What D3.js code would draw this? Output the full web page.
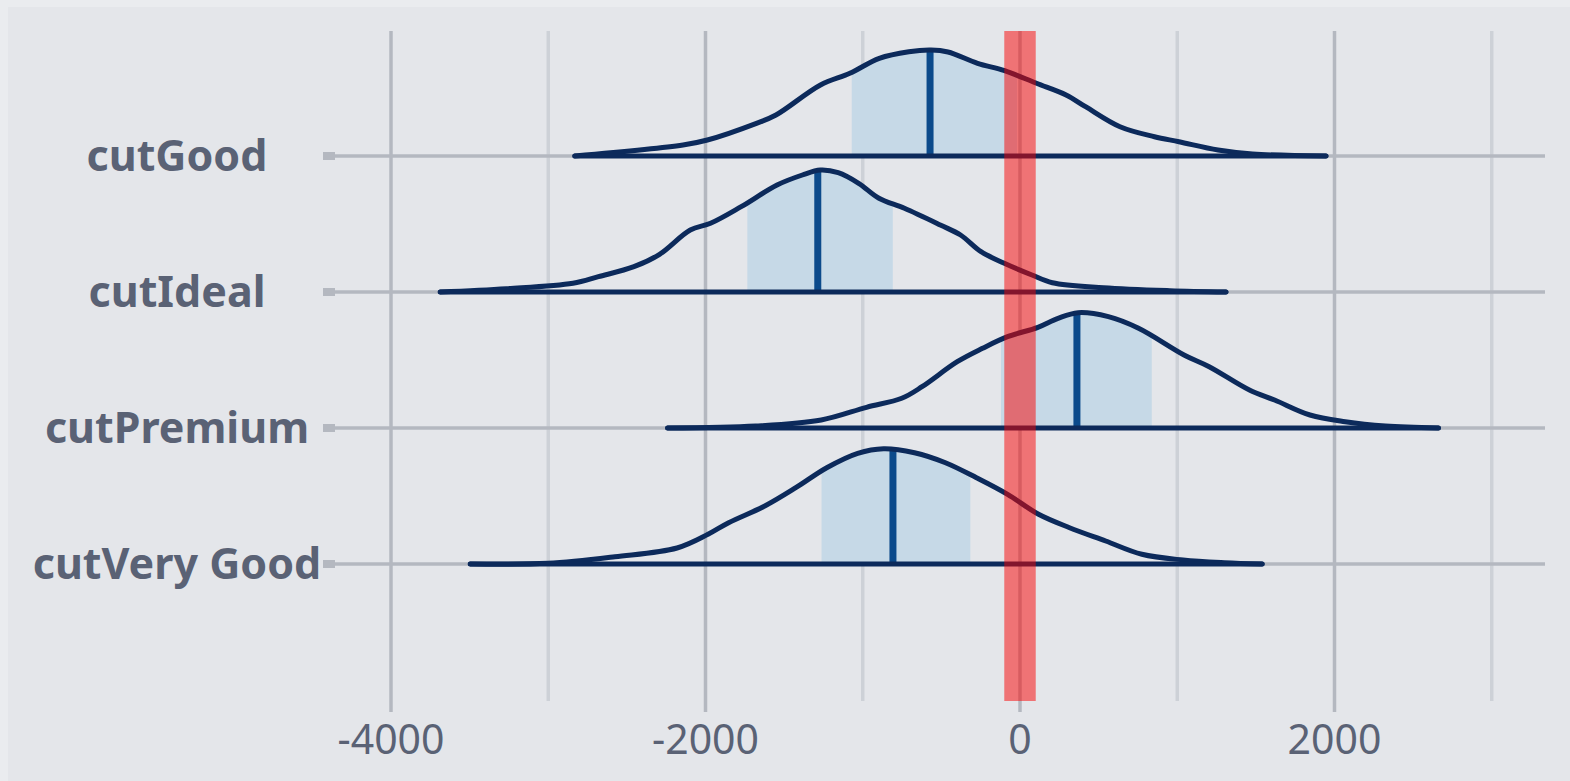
<!DOCTYPE html>
<html>
<head>
<meta charset="utf-8">
<script src="https://cdn.jsdelivr.net/npm/d3@7"></script>
<style>
  html, body { margin: 0; padding: 0; background: #eaecef; }
  svg { display: block; }
  text { font-family: "Noto Sans", "Open Sans", sans-serif; }
</style>
</head>
<body>
<svg id="chart" width="1570" height="781"></svg>
<script>
// ---------------- data ----------------
const categories = ["cutGood", "cutIdeal", "cutPremium", "cutVery Good"];
const xTicksMajor = [-4000, -2000, 0, 2000];
const xTicksMinor = [-3000, -1000, 1000, 3000];
const rope = [-100, 100];

// density curves (x value, relative density)
const goodX = [-2831, -2143, -1988, -1676, -1552, -1269, -1082, -895, -707, -566, -458, -270, -98, 105, 293, 417, 636, 855, 1011, 1259, 1479, 1946];
const goodD = [0, 0.11, 0.16, 0.327, 0.41, 0.71, 0.827, 0.977, 1.043, 1.06, 1.04, 0.927, 0.853, 0.727, 0.61, 0.493, 0.293, 0.193, 0.143, 0.06, 0.02, 0];

const idealX = [-3687, -3266, -2843, -2681, -2455, -2292, -2097, -1968, -1773, -1545, -1384, -1270, -1156, -1026, -897, -735, -507, -378, -248, -86, 76, 206, 531, 953, 1310];
const idealD = [0, 0.033, 0.087, 0.153, 0.253, 0.377, 0.62, 0.687, 0.853, 1.07, 1.17, 1.22, 1.193, 1.087, 0.937, 0.837, 0.67, 0.57, 0.403, 0.277, 0.17, 0.093, 0.043, 0.013, 0];

const premiumX = [-2241, -1680, -1264, -976, -752, -623, -399, -238, -79, 114, 242, 370, 562, 754, 1043, 1203, 1459, 1619, 1844, 2068, 2324, 2661];
const premiumD = [0, 0.02, 0.08, 0.207, 0.297, 0.413, 0.663, 0.797, 0.913, 1.007, 1.097, 1.153, 1.113, 0.997, 0.73, 0.613, 0.38, 0.28, 0.13, 0.063, 0.02, 0];

const veryGoodX = [-3496, -3003, -2576, -2181, -1984, -1853, -1623, -1426, -1229, -1032, -868, -671, -474, -277, -79, 118, 315, 545, 775, 1037, 1300, 1540];
const veryGoodD = [0, 0.007, 0.073, 0.16, 0.297, 0.413, 0.58, 0.763, 0.963, 1.107, 1.153, 1.113, 1.013, 0.863, 0.697, 0.497, 0.363, 0.23, 0.097, 0.04, 0.013, 0];

const hdiLow = [-1070, -1734, -121, -1262];
const hdiHigh = [-19, -809, 838, -316];
const medians = [-572, -1286, 362, -808];

// ---------------- layout ----------------
const W = 1570, H = 781;
const plotLeft = 335, plotRight = 1545, plotTop = 31, plotBottom = 701;

const svg = d3.select("#chart");
const curves = [
  { x: goodX, d: goodD },
  { x: idealX, d: idealD },
  { x: premiumX, d: premiumD },
  { x: veryGoodX, d: veryGoodD }
];

const x = d3.scaleLinear().domain([-4000, 2000]).range([391, 1334.5]);
const y = d3.scalePoint().domain(categories).range([plotTop + 125, plotBottom - 137]);
const hScale = d3.scaleLinear().domain([0, 1]).range([0, 100]);

// panel
svg.append("rect").attr("x", 0).attr("y", 0).attr("width", W).attr("height", H).attr("fill", "#eaecef");
svg.append("rect").attr("x", 8).attr("y", 7).attr("width", W - 8).attr("height", H - 7).attr("fill", "#e4e6ea");

// vertical gridlines
svg.append("g").selectAll("line").data(xTicksMinor).join("line")
  .attr("x1", d => x(d)).attr("x2", d => x(d))
  .attr("y1", plotTop).attr("y2", plotBottom)
  .attr("stroke", "#cdd1d7").attr("stroke-width", 3.5);
svg.append("g").selectAll("line").data(xTicksMajor).join("line")
  .attr("x1", d => x(d)).attr("x2", d => x(d))
  .attr("y1", plotTop).attr("y2", plotBottom + 11)
  .attr("stroke", "#b4b8c0").attr("stroke-width", 3.5);

// horizontal lines + y tick squares
svg.append("g").selectAll("line").data(categories).join("line")
  .attr("x1", plotLeft).attr("x2", plotRight)
  .attr("y1", d => y(d)).attr("y2", d => y(d))
  .attr("stroke", "#b4b8c0").attr("stroke-width", 3.5);
svg.append("g").selectAll("rect").data(categories).join("rect")
  .attr("x", plotLeft - 12).attr("y", d => y(d) - 4)
  .attr("width", 12).attr("height", 8)
  .attr("fill", "#b4b8c0");

// y labels
svg.append("g").selectAll("text").data(categories).join("text")
  .attr("x", 177).attr("y", d => y(d))
  .attr("dy", "0.36em")
  .attr("text-anchor", "middle")
  .attr("font-size", 43).attr("font-weight", 700)
  .attr("fill", "#5a6275")
  .text(d => d);

// x labels
svg.append("g").selectAll("text").data(xTicksMajor).join("text")
  .attr("x", d => x(d)).attr("y", 754)
  .attr("text-anchor", "middle")
  .attr("font-size", 41)
  .attr("fill", "#5a6275")
  .text(d => d < 0 ? "-" + Math.abs(d) : d);

// ridges
const defs = svg.append("defs");
const curveType = d3.curveCatmullRom.alpha(0.5);
categories.forEach((cat, i) => {
  const c = curves[i];
  const pts = c.x.map((v, j) => [v, c.d[j]]);
  const base = y(cat);
  const area = d3.area().curve(curveType)
    .x(p => x(p[0])).y0(base).y1(p => base - hScale(p[1]));
  const line = d3.line().curve(curveType)
    .x(p => x(p[0])).y(p => base - hScale(p[1]));

  defs.append("clipPath").attr("id", "hdi" + i).append("rect")
    .attr("x", x(hdiLow[i])).attr("width", x(hdiHigh[i]) - x(hdiLow[i]))
    .attr("y", 0).attr("height", H);
  defs.append("clipPath").attr("id", "med" + i).append("rect")
    .attr("x", x(medians[i]) - 3.5).attr("width", 7)
    .attr("y", 0).attr("height", H);

  const g = svg.append("g");
  g.append("path").attr("d", area(pts)).attr("fill", "#c6d9e7").attr("clip-path", `url(#hdi${i})`);
  g.append("path").attr("d", area(pts)).attr("fill", "#0b4a8b").attr("clip-path", `url(#med${i})`);
  g.append("path").attr("d", line(pts)).attr("fill", "none")
    .attr("stroke", "#0c2a5b").attr("stroke-width", 5)
    .attr("stroke-linecap", "round").attr("stroke-linejoin", "round");
  g.append("line")
    .attr("x1", x(c.x[0])).attr("x2", x(c.x[c.x.length - 1]))
    .attr("y1", base).attr("y2", base)
    .attr("stroke", "#0c2a5b").attr("stroke-width", 5)
    .attr("stroke-linecap", "round");
});

// ROPE band
svg.append("rect")
  .attr("x", x(rope[0])).attr("width", x(rope[1]) - x(rope[0]))
  .attr("y", plotTop).attr("height", plotBottom - plotTop)
  .attr("fill", "rgba(250, 0, 0, 0.5)");
</script>
</body>
</html>
